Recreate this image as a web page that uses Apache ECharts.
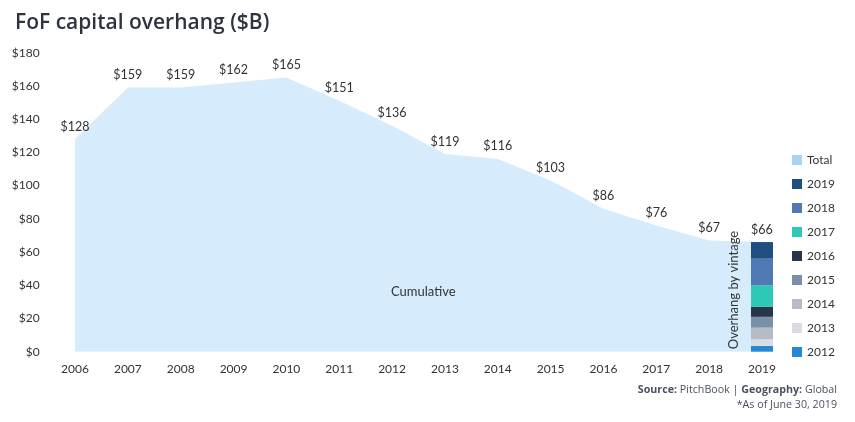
<!DOCTYPE html>
<html><head><meta charset="utf-8">
<script src="https://cdn.jsdelivr.net/npm/echarts@6/dist/echarts.min.js"></script>
<style>html,body{margin:0;padding:0;background:#fff}#c{width:855px;height:422px}</style>
</head><body><div id="c"></div>
<script>
const years = ['2006','2007','2008','2009','2010','2011','2012','2013','2014','2015','2016','2017','2018','2019'];
const totalValues = [128,159,159,162,165,151,136,119,116,103,86,76,67,66];
const vintageNames = ['2012','2013','2014','2015','2016','2017','2018','2019'];
const vintageValues = [3.5,4,7,6.5,6,13,16,10];
const yTicks = {min:0, max:180, interval:20};

const vintageColors = {'2012':'#2688d5','2013':'#d9dde3','2014':'#b5bcc5','2015':'#7a8fa8','2016':'#27364a','2017':'#2ec8b4','2018':'#4f79b5','2019':'#1f4e80'};
const FONT = 'Lato';
const chart = echarts.init(document.getElementById('c'));

const series = [{
  name:'Total', type:'line', data: totalValues, symbol:'circle', symbolSize:0.1, showSymbol:true,
  lineStyle:{width:0}, itemStyle:{color:'#a8d4f4'},
  areaStyle:{color:'#d6ebfc', opacity:1},
  label:{show:true, position:'top', distance:6, formatter: p => '$' + p.value, color:'#333', fontFamily:FONT, fontSize:12.5},
  z:1
}];
vintageNames.forEach((n,i)=>{
  const d = years.map((y,j)=> j===years.length-1 ? vintageValues[i] : '-');
  series.push({name:n, type:'bar', stack:'v', data:d, barWidth:22, itemStyle:{color:vintageColors[n]}, z:3});
});

chart.setOption({
  animation:false,
  title:{text:'FoF capital overhang ($B)', left:10, top:8, textStyle:{fontFamily:'Open Sans', fontSize:21, fontWeight:600, color:'#2d3440'}},
  grid:{left:48.6, right:66.6, top:52.7, bottom:70.3, containLabel:false},
  legend:{orient:'vertical', left:787, top:149, itemWidth:10, itemHeight:10, itemGap:12, icon:'rect',
    data:['Total'].concat(vintageNames.slice().reverse()),
    textStyle:{fontFamily:FONT, fontSize:12, color:'#333'}},
  xAxis:{type:'category', data:years, boundaryGap:true, axisLine:{show:false}, axisTick:{show:false},
    axisLabel:{fontFamily:FONT, fontSize:12, color:'#333', margin:11}},
  yAxis:{type:'value', min:yTicks.min, max:yTicks.max, interval:yTicks.interval, splitLine:{show:false},
    axisLine:{show:false}, axisTick:{show:false},
    axisLabel:{formatter: v => '$' + v, fontFamily:FONT, fontSize:12, color:'#333', margin:9}},
  series: series,
  graphic:[
    {type:'text', z:100, left:391, top:285, style:{text:'Cumulative', fontFamily:FONT, fontSize:13, fill:'#333'}},
    {type:'text', z:100, x:734, y:290, rotation:Math.PI/2, style:{text:'Overhang by vintage', fontFamily:FONT, fontSize:13, fill:'#333', align:'center', verticalAlign:'middle'}},
    {type:'text', z:100, x:837, y:384, style:{text:'{b|Source:} PitchBook | {b|Geography:} Global', align:'right', fontFamily:'Open Sans', fontSize:10.7, fill:'#4a5260',
      rich:{b:{fontWeight:'bold', fontFamily:'Open Sans', fontSize:10.7, fill:'#4a5260'}}}},
    {type:'text', z:100, x:837, y:399, style:{text:'*As of June 30, 2019', align:'right', fontFamily:'Open Sans', fontSize:10.7, fill:'#4a5260'}}
  ]
});
</script></body></html>
